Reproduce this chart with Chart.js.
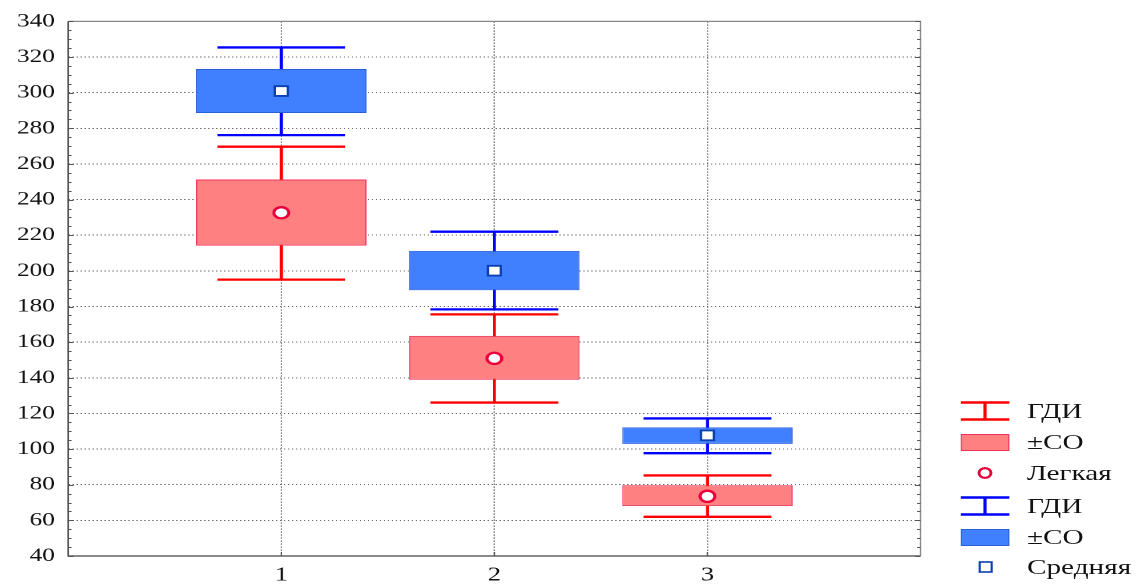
<!DOCTYPE html>
<html>
<head>
<meta charset="utf-8">
<script src="https://cdn.jsdelivr.net/npm/chart.js@4"></script>
<style>
    body { margin: 0; background: #fff; }
    #wrap { position: relative; width: 860px; height: 585px; transform: scaleX(1.3302); transform-origin: 0 0; }
    #chartBox { position: absolute; left: 0; top: 0; width: 860px; height: 585px; }
    .row { position: absolute; left: 722px; display: flex; align-items: center; transform: translateY(-50%);
           font-family: "Liberation Serif", "Times New Roman", serif; font-size: 22px; line-height: 1; color: #111; }
    .row svg { display: block; margin-right: 13px; }
</style>
</head>
<body>
<div id="wrap">
    <div id="chartBox"><canvas id="chart"></canvas></div>
    <div id="legend"></div>
</div>
<script>
// group positions on the x axis
const groups = [1, 2, 3];

// "Легкая" (red): mean, ±SD box, whisker range
const redMean = [232.6, 150.9, 73.5];
const redSdLow = [214.2, 138.9, 68.0];
const redSdHigh = [251.3, 163.5, 79.7];
const redCiLow = [195.1, 126.1, 62.0];
const redCiHigh = [269.7, 175.6, 85.2];

// "Средняя" (blue)
const blueMean = [300.9, 200.1, 107.7];
const blueSdLow = [288.6, 189.1, 102.9];
const blueSdHigh = [313.3, 211.2, 112.2];
const blueCiLow = [276.2, 178.4, 97.7];
const blueCiHigh = [325.4, 222.0, 117.2];

// axis ticks
const yMin = 40, yMax = 340, yStep = 20, yMinorStep = 5;
const xMin = 0, xMax = 4;

const legendLabels = ["ГДИ", "±СО", "Легкая", "ГДИ", "±СО", "Средняя"];

const RED = "#ff0000", RED_FILL = "#ff8080", RED_EDGE = "#f0305a", RED_MARK = "#e8003a";
const BLUE = "#0000ff", BLUE_FILL = "#4080ff", BLUE_EDGE = "#2a5fd8", BLUE_MARK = "#0a40b0";
const CAP = 0.3;

function whiskers(lo, hi) {
    const pts = [];
    groups.forEach((g, i) => {
        pts.push({ x: g - CAP, y: hi[i] }, { x: g + CAP, y: hi[i] }, { x: g, y: null });
        pts.push({ x: g, y: hi[i] }, { x: g, y: lo[i] }, { x: g, y: null });
        pts.push({ x: g - CAP, y: lo[i] }, { x: g + CAP, y: lo[i] }, { x: g, y: null });
    });
    return pts;
}

function boxes(lo, hi) {
    return groups.map((g, i) => ({ x: g, y: [lo[i], hi[i]] }));
}

function means(vals) {
    return groups.map((g, i) => ({ x: g, y: vals[i] }));
}

// frame + inward tick marks like the original
const framePlugin = {
    id: "frame",
    afterDraw(chart) {
        const { ctx, chartArea: a, scales } = chart;
        const y = scales.y, x = scales.x;
        ctx.save();
        ctx.lineWidth = 1.2;
        ctx.strokeStyle = "#8a8a8a";
        ctx.beginPath();
        ctx.moveTo(a.left, a.top); ctx.lineTo(a.right, a.top); ctx.lineTo(a.right, a.bottom);
        ctx.stroke();
        ctx.strokeStyle = "#444";
        ctx.beginPath();
        ctx.moveTo(a.left, a.top); ctx.lineTo(a.left, a.bottom); ctx.lineTo(a.right, a.bottom);
        ctx.stroke();

        ctx.lineWidth = 1;
        ctx.strokeStyle = "#555";
        ctx.beginPath();
        for (let v = yMin; v <= yMax; v += yMinorStep) {
            const py = Math.round(y.getPixelForValue(v)) + 0.5;
            const len = (v - yMin) % yStep === 0 ? 4 : 2.5;
            ctx.moveTo(a.left, py); ctx.lineTo(a.left + len, py);
            ctx.moveTo(a.right, py); ctx.lineTo(a.right - len, py);
        }
        groups.forEach(g => {
            const px = x.getPixelForValue(g);
            ctx.moveTo(px, a.bottom); ctx.lineTo(px, a.bottom - 4);
        });
        ctx.stroke();
        ctx.restore();
    }
};

const tickFont = { family: "'Liberation Serif', 'Times New Roman', serif" };
const tickValue = c => (c && c.tick ? c.tick.value : NaN);

new Chart(document.getElementById("chart"), {
    type: "bar",
    data: {
        datasets: [
            { type: "line", data: whiskers(redCiLow, redCiHigh), borderColor: RED, borderWidth: 2.3,
              pointRadius: 0, spanGaps: false, fill: false, order: 3 },
            { type: "line", data: whiskers(blueCiLow, blueCiHigh), borderColor: BLUE, borderWidth: 2.3,
              pointRadius: 0, spanGaps: false, fill: false, order: 3 },
            { type: "bar", data: boxes(redSdLow, redSdHigh), backgroundColor: RED_FILL, borderColor: RED_EDGE,
              borderWidth: 1, borderSkipped: false, grouped: false, barPercentage: 0.8, categoryPercentage: 1, order: 2 },
            { type: "bar", data: boxes(blueSdLow, blueSdHigh), backgroundColor: BLUE_FILL, borderColor: BLUE_EDGE,
              borderWidth: 1, borderSkipped: false, grouped: false, barPercentage: 0.8, categoryPercentage: 1, order: 2 },
            { type: "line", data: means(redMean), showLine: false, pointStyle: "circle", pointRadius: 5.6,
              pointBorderWidth: 2.3, pointBackgroundColor: "#fff", pointBorderColor: RED_MARK, order: 1 },
            { type: "line", data: means(blueMean), showLine: false, pointStyle: "rect", pointRadius: 6.9,
              pointBorderWidth: 1.8, pointBackgroundColor: "#fff", pointBorderColor: BLUE_MARK, order: 1 }
        ]
    },
    options: {
        responsive: true,
        maintainAspectRatio: false,
        animation: false,
        devicePixelRatio: 2,
        layout: { padding: { top: 19, right: 168, left: 0, bottom: 0 } },
        plugins: { legend: { display: false }, tooltip: { enabled: false } },
        scales: {
            x: {
                type: "linear",
                min: xMin,
                max: xMax,
                offset: false,
                afterFit: s => { s.height = 29; },
                ticks: {
                    stepSize: 1,
                    padding: 7,
                    color: "#111",
                    font: { ...tickFont, size: 20 },
                    callback: v => (groups.includes(v) ? String(v) : "")
                },
                grid: {
                    offset: false,
                    drawTicks: false,
                    color: c => (groups.includes(tickValue(c)) ? "#7a7a7a" : "transparent"),
                    lineWidth: 1
                },
                border: { display: false, dash: [1.5, 1.5] }
            },
            y: {
                min: yMin,
                max: yMax,
                afterFit: s => { s.width = 51.3; },
                ticks: {
                    stepSize: yStep,
                    padding: 10,
                    color: "#111",
                    font: { ...tickFont, size: 19 }
                },
                grid: {
                    drawTicks: false,
                    color: c => (tickValue(c) > yMin && tickValue(c) < yMax ? "#6a6a6a" : "transparent"),
                    lineWidth: 1
                },
                border: { display: false, dash: [1, 2] }
            }
        }
    },
    plugins: [framePlugin]
});

// legend on the right
const legendIcons = [
    `<svg width="37" height="20"><g stroke="${RED}" stroke-width="2.4"><line x1="0" y1="1.5" x2="37" y2="1.5"/><line x1="0" y1="18.5" x2="37" y2="18.5"/><line x1="18.5" y1="1.5" x2="18.5" y2="18.5"/></g></svg>`,
    `<svg width="37" height="17"><rect x="0.5" y="0.5" width="36" height="16" fill="${RED_FILL}" stroke="${RED_EDGE}" stroke-width="1"/></svg>`,
    `<svg width="37" height="14"><ellipse cx="18.5" cy="7" rx="4.5" ry="4.8" fill="#fff" stroke="${RED_MARK}" stroke-width="2.2"/></svg>`,
    `<svg width="37" height="20"><g stroke="${BLUE}" stroke-width="2.4"><line x1="0" y1="1.5" x2="37" y2="1.5"/><line x1="0" y1="18.5" x2="37" y2="18.5"/><line x1="18.5" y1="1.5" x2="18.5" y2="18.5"/></g></svg>`,
    `<svg width="37" height="17"><rect x="0.5" y="0.5" width="36" height="16" fill="${BLUE_FILL}" stroke="${BLUE_EDGE}" stroke-width="1"/></svg>`,
    `<svg width="37" height="14"><rect x="14.5" y="2" width="9" height="10" fill="#fff" stroke="${BLUE_MARK}" stroke-width="1.6"/></svg>`
];
const legendY = [411, 442, 473, 506, 537, 567];

const legend = document.getElementById("legend");
legendLabels.forEach((label, i) => {
    const row = document.createElement("div");
    row.className = "row";
    row.style.top = legendY[i] + "px";
    row.innerHTML = legendIcons[i];
    const text = document.createElement("span");
    text.textContent = label;
    row.appendChild(text);
    legend.appendChild(row);
});
</script>
</body>
</html>
